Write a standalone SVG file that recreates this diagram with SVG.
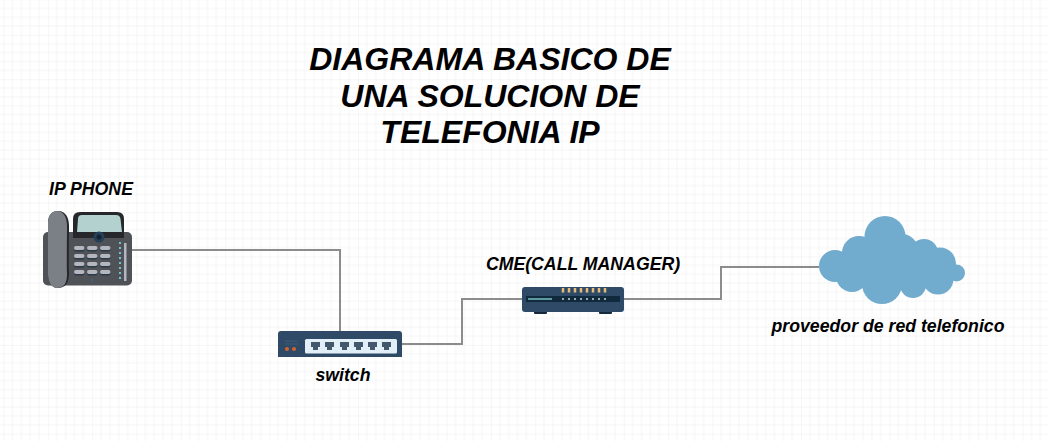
<svg xmlns="http://www.w3.org/2000/svg" width="1048" height="441" viewBox="0 0 1048 441">
<defs>
<pattern id="grid" width="44.3" height="44.3" patternUnits="userSpaceOnUse" x="3.6" y="-9.4"><path d="M8.86 0V44.3M17.72 0V44.3M26.58 0V44.3M35.44 0V44.3M0 8.86H44.3M0 17.72H44.3M0 26.58H44.3M0 35.44H44.3" fill="none" stroke="#f5f5f5" stroke-width="1"/><path d="M0 0V44.3M0 0H44.3" fill="none" stroke="#ededed" stroke-width="1"/></pattern>
</defs>
<style>
.t{font-family:"Liberation Sans",Arial,sans-serif;font-weight:bold;font-style:italic;fill:#000;text-anchor:middle}
.title{font-size:32px}
.lbl{font-size:17.7px}
.c{fill:none;stroke:#8c8c8c;stroke-width:2}
.key{fill:#b4b7bf}
.keyb{fill:#2c3a48}
</style>
<rect width="1048" height="441" fill="#fff"/>
<rect width="1048" height="441" fill="url(#grid)"/>
<g id="connectors">
<path class="c" d="M132 250H340V331"/>
<path class="c" d="M402 344H462V299H522"/>
<path class="c" d="M623 299H721V267H819"/>
</g>
<g id="title"><text class="t title" x="490" y="70">DIAGRAMA BASICO DE</text><text class="t title" x="490" y="106.500">UNA SOLUCION DE</text><text class="t title" x="490" y="143">TELEFONIA IP</text></g>
<g id="ip-phone">
<rect x="43" y="232" width="89" height="53.500" rx="5" fill="#4f5257"/>
<path d="M73 238V219Q73 212 80 212H117Q124 212 124 219V238Z" fill="#26272a"/>
<path d="M78 219Q78 215 82 215H116Q120 215 120.500 219L122 232H77Z" fill="#b3d1cf"/>
<circle cx="99" cy="237" r="5.500" fill="#24405a"/><circle cx="99" cy="237" r="2.500" fill="#16222e"/>
<path d="M58 211C66 211 69 218 69 226C69 240 68.500 260 69 274C69 283 65 288 58 288C51 288 48 281 48 274C48 258 48 240 48 224C48 216 51 211 58 211Z" fill="#26272a"/>
<path d="M57 211C64 211 67 218 67 226C67 240 66.500 260 67 274C67 283 64 288 57 288C51 288 48 281 48 274C48 258 48 240 48 224C48 216 51 211 57 211Z" fill="#7b8087"/>
<g class="keyb">
<rect x="74" y="247" width="10.500" height="4.500" rx="2"/><rect x="87" y="247" width="10.500" height="4.500" rx="2"/><rect x="100" y="247" width="10.500" height="4.500" rx="2"/>
<rect x="74" y="255" width="10.500" height="4.500" rx="2"/><rect x="87" y="255" width="10.500" height="4.500" rx="2"/><rect x="100" y="255" width="10.500" height="4.500" rx="2"/>
<rect x="74" y="263" width="10.500" height="4.500" rx="2"/><rect x="87" y="263" width="10.500" height="4.500" rx="2"/><rect x="100" y="263" width="10.500" height="4.500" rx="2"/>
<rect x="74" y="271" width="10.500" height="4.500" rx="2"/><rect x="87" y="271" width="10.500" height="4.500" rx="2"/><rect x="100" y="271" width="10.500" height="4.500" rx="2"/>
</g>
<g class="key">
<rect x="74" y="246" width="10.500" height="4" rx="2"/><rect x="87" y="246" width="10.500" height="4" rx="2"/><rect x="100" y="246" width="10.500" height="4" rx="2"/>
<rect x="74" y="254" width="10.500" height="4" rx="2"/><rect x="87" y="254" width="10.500" height="4" rx="2"/><rect x="100" y="254" width="10.500" height="4" rx="2"/>
<rect x="74" y="262" width="10.500" height="4" rx="2"/><rect x="87" y="262" width="10.500" height="4" rx="2"/><rect x="100" y="262" width="10.500" height="4" rx="2"/>
<rect x="74" y="270" width="10.500" height="4" rx="2"/><rect x="87" y="270" width="10.500" height="4" rx="2"/><rect x="100" y="270" width="10.500" height="4" rx="2"/>
</g>
<rect x="124" y="243" width="2.500" height="38" fill="#b4b7bf"/>
<path d="M120 242V281" stroke="#6fc3cc" stroke-width="2" stroke-dasharray="2 3"/>
<circle cx="92" cy="280" r="1" fill="#2f6aa0"/>
<text class="t lbl" x="91" y="195">IP PHONE</text>
</g>
<g id="switch">
<path d="M281 331H399Q402 331 402 334V357H278V334Q278 331 281 331Z" fill="#2f4a66"/>
<rect x="305" y="339" width="92" height="14.500" rx="1.500" fill="#e3eff8"/>
<g fill="#44586c">
<path d="M311 342H320V347H318V350H313V347H311Z"/><path d="M325 342H334V347H332V350H327V347H325Z"/><path d="M340 342H349V347H347V350H342V347H340Z"/><path d="M354 342H363V347H361V350H356V347H354Z"/><path d="M368 342H377V347H375V350H370V347H368Z"/><path d="M382 342H391V347H389V350H384V347H382Z"/>
</g>
<circle cx="287" cy="349" r="2" fill="#d2622d"/><circle cx="294" cy="349" r="2" fill="#d2622d"/>
<path d="M285 341H298M285 344H298" stroke="#3f5a76" stroke-width="1"/>
<text class="t lbl" x="343" y="381">switch</text>
</g>
<g id="cme">
<rect x="534" y="310" width="13" height="4" rx="1" fill="#16293c"/><rect x="599" y="310" width="13" height="4" rx="1" fill="#16293c"/>
<rect x="522" y="287" width="102" height="25" rx="3" fill="#2f4a66"/>
<rect x="526" y="296" width="94" height="6" fill="#10293c"/>
<rect x="528" y="298" width="24" height="2" fill="#5b9aa0"/>
<path d="M563 288V292.500M569 288V292.500M575 288V292.500M581 288V292.500M587 288V292.500M593 288V292.500M599 288V292.500M605 288V292.500" stroke="#e8bd7c" stroke-width="2.500"/>
<path d="M563 298V300M569 298V300M575 298V300M581 298V300M587 298V300M593 298V300M599 298V300M605 298V300" stroke="#c7d6dc" stroke-width="1.500"/>
<text class="t lbl" x="583" y="270">CME(CALL MANAGER)</text>
</g>
<g id="cloud">
<g fill="#71abcd">
<circle cx="835" cy="266" r="16"/><circle cx="859" cy="253" r="17"/><circle cx="885" cy="236.500" r="20.500"/><circle cx="902" cy="250" r="16"/><circle cx="924" cy="253" r="14"/><circle cx="940" cy="263.500" r="16"/><circle cx="956.500" cy="273" r="8.500"/><circle cx="938" cy="279" r="15.500"/><circle cx="913" cy="285" r="13"/><circle cx="882" cy="284" r="20"/><circle cx="852" cy="276" r="16"/>
<rect x="850" y="250" width="90" height="35"/>
</g>
<text class="t lbl" x="888" y="332">proveedor de red telefonico</text>
</g>
</svg>
